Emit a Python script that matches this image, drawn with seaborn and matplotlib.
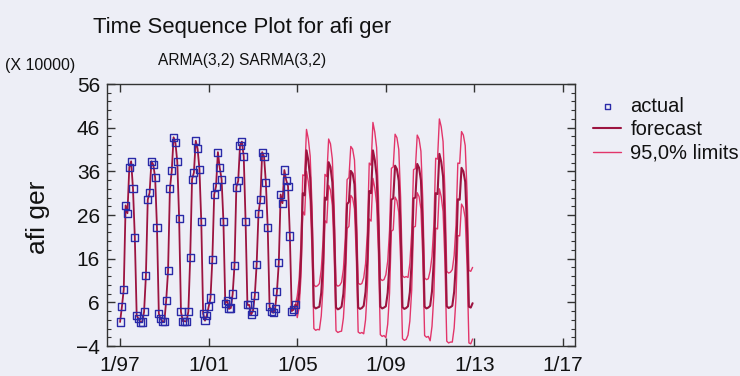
import matplotlib
matplotlib.use("Agg")
import matplotlib.pyplot as plt
import seaborn as sns
import pandas as pd
from matplotlib import font_manager
from matplotlib.ticker import MultipleLocator, FixedLocator

# ---------------- data (units of 10000) ----------------
start_year = 1997
actual_values = [
    1.5, 5.0, 9.0, 28.2, 26.4, 36.9, 38.3, 32.0, 20.8, 3.0, 2.2, 1.5,   # 1997
    1.5, 3.8, 12.1, 29.5, 31.1, 38.3, 37.5, 34.6, 23.1, 3.4, 2.2, 1.6,  # 1998
    1.6, 6.5, 13.2, 32.0, 36.1, 43.8, 42.5, 38.2, 25.2, 3.8, 1.7, 1.7,  # 1999
    1.6, 3.9, 16.3, 34.2, 35.7, 43.0, 41.2, 36.5, 24.5, 3.4, 1.8, 3.0,  # 2000
    5.0, 7.0, 15.9, 30.7, 32.6, 40.4, 36.8, 34.2, 24.5, 5.8, 6.5, 4.5,  # 2001
    4.7, 7.9, 14.5, 32.4, 33.8, 42.0, 42.8, 39.4, 24.6, 5.4, 5.4, 3.2,  # 2002
    4.0, 7.6, 14.7, 26.4, 29.5, 40.4, 39.4, 33.4, 23.1, 5.0, 3.9, 3.6,  # 2003
    4.5, 8.5, 15.1, 30.7, 28.7, 36.3, 34.0, 32.6, 21.2, 4.0, 4.3, 5.4,  # 2004
]
forecast_values = [
    5.0, 8.0, 15.5, 31.0, 30.5, 40.8, 38.5, 34.5, 23.0, 5.0, 4.6, 4.8,  # 2005
    5.0, 8.2, 15.0, 30.0, 29.5, 38.1, 37.0, 33.5, 22.5, 4.8, 4.4, 4.6,  # 2006
    5.0, 8.0, 15.0, 28.5, 29.0, 36.1, 35.5, 33.0, 22.0, 4.8, 4.5, 4.7,  # 2007
    5.2, 8.4, 15.8, 31.5, 31.0, 40.8, 38.6, 35.0, 23.5, 5.0, 4.6, 4.8,  # 2008
    5.1, 8.2, 15.3, 29.5, 29.8, 37.3, 36.5, 33.8, 22.8, 4.9, 4.5, 4.7,  # 2009
    5.1, 8.3, 15.4, 29.8, 30.0, 37.7, 36.8, 34.0, 23.0, 5.0, 4.6, 4.8,  # 2010
    5.2, 8.5, 15.7, 31.0, 30.8, 40.0, 38.2, 34.8, 23.4, 5.1, 4.7, 4.9,  # 2011
    5.2, 8.4, 15.3, 29.6, 29.5, 36.8, 36.0, 33.6, 22.8, 5.0, 4.8, 5.8,  # 2012
]
upper_values = [
    7.5, 11.2, 19.3, 35.2, 35.0, 45.6, 43.4, 39.5, 28.0, 10.0, 9.6, 9.8,
    10.3, 13.5, 20.3, 35.3, 34.8, 43.4, 42.3, 38.8, 27.8, 10.1, 9.7, 9.9,
    10.6, 13.6, 20.6, 34.1, 34.6, 41.7, 41.1, 38.6, 27.6, 10.4, 10.1, 10.3,
    11.6, 14.8, 22.2, 37.9, 37.4, 47.2, 45.0, 41.4, 29.9, 11.4, 11.0, 11.2,
    12.3, 15.4, 22.5, 36.7, 37.0, 44.5, 43.7, 41.0, 30.0, 12.1, 11.7, 11.9,
    11.7, 14.9, 22.0, 36.4, 36.6, 44.3, 43.4, 40.6, 29.6, 11.6, 11.2, 11.4,
    13.2, 16.5, 23.7, 39.0, 38.8, 48.0, 46.2, 42.8, 31.4, 13.1, 12.7, 12.9,
    13.5, 16.7, 23.6, 37.9, 37.8, 45.1, 44.3, 41.9, 31.1, 13.3, 13.1, 14.0,
]
lower_values = [
    2.5, 4.8, 11.7, 26.8, 26.0, 36.0, 33.6, 29.5, 18.0, 0.0, -0.4, -0.2,
    -0.3, 2.9, 9.7, 24.7, 24.2, 32.8, 31.7, 28.2, 17.2, -0.5, -0.9, -0.7,
    -0.6, 2.4, 9.4, 22.9, 23.4, 30.5, 29.9, 27.4, 16.4, -0.8, -1.1, -0.9,
    -1.2, 2.0, 9.4, 25.1, 24.6, 34.4, 32.2, 28.6, 17.1, -1.4, -1.8, -1.6,
    -2.1, 1.0, 8.1, 22.3, 22.6, 30.1, 29.3, 26.6, 15.6, -2.3, -2.7, -2.5,
    -1.5, 1.7, 8.8, 23.2, 23.4, 31.1, 30.2, 27.4, 16.4, -1.6, -2.0, -1.8,
    -2.8, 0.5, 7.7, 23.0, 22.8, 32.0, 30.2, 26.8, 15.4, -2.9, -3.3, -3.1,
    -3.1, 0.1, 7.0, 21.3, 21.2, 28.5, 27.7, 25.3, 14.5, -3.3, -3.5, -2.4,
]
tick_years = [1997, 2001, 2005, 2009, 2013, 2017]
tick_labels = ["1/97", "1/01", "1/05", "1/09", "1/13", "1/17"]
y_ticks = [-4, 6, 16, 26, 36, 46, 56]

# ---------------- frame ----------------
n_act = len(actual_values)
t_actual = [start_year + i / 12 for i in range(n_act)]
t_fore = [start_year + (n_act - 1 + i) / 12 for i in range(len(forecast_values) + 1)]

df_act = pd.DataFrame({"t": t_actual, "v": actual_values})
df_fore = pd.DataFrame({
    "t": t_fore,
    "f": [actual_values[-1]] + forecast_values,
    "u": [actual_values[-1]] + upper_values,
    "l": [actual_values[-1]] + lower_values,
})

# ---------------- style ----------------
sns.set_theme(style="ticks")
names = {f.name for f in font_manager.fontManager.ttflist}
narrow = "Liberation Sans Narrow" in names
plt.rcParams["font.family"] = ["Liberation Sans", "DejaVu Sans"]
narrow_fam = ["Liberation Sans Narrow", "Liberation Sans"] if narrow else ["Liberation Sans"]
k = 1.0 if narrow else 0.86

BG = "#EDEEF6"
C_FORE = "#9C1440"
C_LIM = "#E2356A"
C_ACT = "#2A2AA8"

fig = plt.figure(figsize=(7.4, 3.76), dpi=100, facecolor=BG)
ax = fig.add_axes([107 / 740, 1 - 346 / 376, (575 - 107) / 740, (346 - 84) / 376])
ax.set_facecolor(BG)

sns.lineplot(data=df_fore, x="t", y="u", ax=ax, color=C_LIM, lw=1.0, label="95,0% limits", zorder=2)
sns.lineplot(data=df_fore, x="t", y="l", ax=ax, color=C_LIM, lw=1.0, zorder=2)
sns.lineplot(data=df_act, x="t", y="v", ax=ax, color=C_FORE, lw=1.3, zorder=3)
sns.lineplot(data=df_fore, x="t", y="f", ax=ax, color=C_FORE, lw=1.5, label="forecast", zorder=3)
sns.scatterplot(data=df_act, x="t", y="v", ax=ax, marker="s", s=26, facecolors="none",
                edgecolor=C_ACT, linewidth=1.0, label="actual", zorder=4)

ax.set_xlim(1996.41, 2017.54)
ax.set_ylim(-4, 56)
ax.xaxis.set_major_locator(FixedLocator(tick_years))
ax.set_xticklabels(tick_labels)
ax.yaxis.set_major_locator(FixedLocator(y_ticks))
ax.yaxis.set_minor_locator(MultipleLocator(2))
ax.set_xlabel("")
ax.set_ylabel("")
for s in ax.spines.values():
    s.set_visible(True)
    s.set_color("#333333")
    s.set_linewidth(1.0)
ax.tick_params(axis="both", which="major", direction="in", length=6, width=1,
               color="#333333", labelsize=15, labelcolor="#111111",
               top=True, right=True)
ax.tick_params(axis="y", which="minor", direction="in", length=3, width=0.8,
               color="#333333", left=True, right=True)
ax.tick_params(axis="y", which="major", pad=5)
ax.tick_params(axis="x", which="major", pad=7)
ax.grid(False)

# legend (ordered actual, forecast, limits)
h, l = ax.get_legend_handles_labels()
order = [l.index("actual"), l.index("forecast"), l.index("95,0% limits")]
leg = ax.legend([h[i] for i in order], [l[i] for i in order],
                loc="upper left", bbox_to_anchor=(593 / 740, 1 - 97 / 376),
                bbox_transform=fig.transFigure, frameon=False, fontsize=14.5,
                handlelength=1.4, handletextpad=0.45, labelspacing=0.22,
                borderpad=0, borderaxespad=0, markerscale=0.7)
for t in leg.get_texts():
    t.set_color("#111111")

# texts
fig.text(242 / 740, 1 - 33 / 376, "Time Sequence Plot for afi ger", ha="center",
         va="baseline", fontsize=18.5 * k, family=narrow_fam, color="#111111")
fig.text(242 / 740, 1 - 65 / 376, "ARMA(3,2) SARMA(3,2)", ha="center",
         va="baseline", fontsize=13 * k, family=narrow_fam, color="#111111")
fig.text(5 / 740, 1 - 70 / 376, "(X 10000)", ha="left", va="baseline",
         fontsize=13.4 * k, family=narrow_fam, color="#111111")
fig.text(38 / 740, 1 - 217 / 376, "afi ger", ha="center", va="center",
         rotation=90, fontsize=19, color="#111111")

fig.savefig("out.png", dpi=100, facecolor=BG)
